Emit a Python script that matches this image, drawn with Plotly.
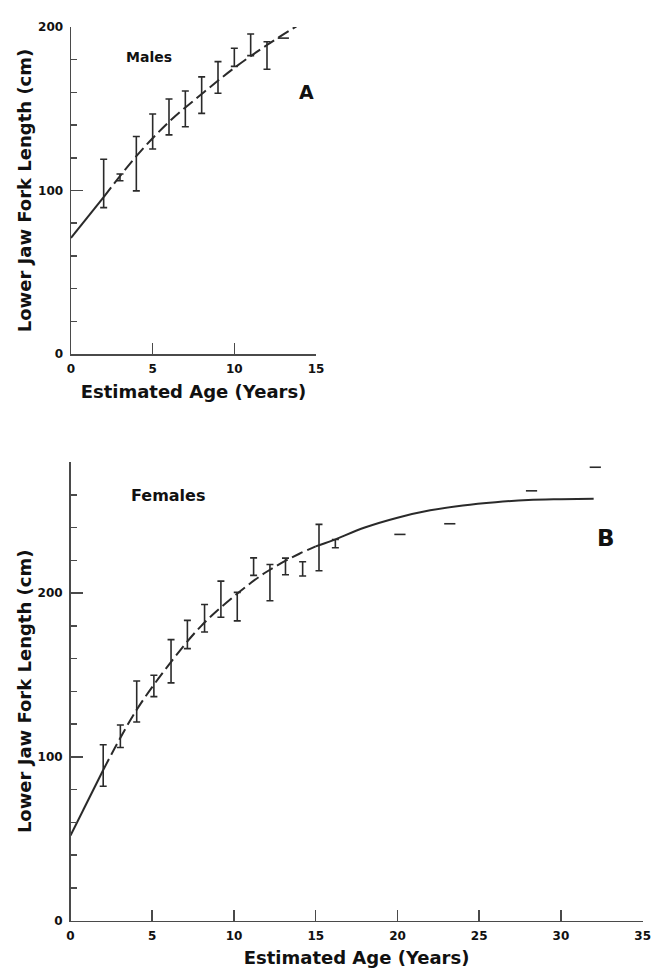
import plotly.graph_objects as go

# ---------------- Panel A: Males ----------------
male_age = [2, 3, 4, 5, 6, 7, 8, 9, 10, 11, 12]
male_low = [89.5, 106.0, 99.8, 125.4, 134.0, 139.0, 147.2, 159.5, 175.9, 182.5, 174.2]
male_high = [119.1, 110.1, 133.0, 146.8, 156.0, 160.9, 169.5, 178.8, 187.0, 195.7, 191.0]
male_single_age = [13, 14]
male_single_len = [193.2, 209.0]
male_curve_age = [0, 2, 4, 6, 8, 10, 12, 13.9]
male_curve_len = [71, 96, 121, 142, 159, 175, 189, 201]

# ---------------- Panel B: Females ----------------
female_age = [2.0, 3.05, 4.05, 5.1, 6.15, 7.15, 8.2, 9.2, 10.2, 11.2, 12.2, 13.15, 14.2, 15.2, 16.2]
female_low = [82.1, 105.7, 121.3, 136.8, 145.2, 166.1, 176.2, 185.2, 183.0, 210.8, 195.3, 211.2, 210.4, 213.6, 227.7]
female_high = [107.4, 119.5, 146.3, 149.8, 171.6, 183.3, 193.0, 207.3, 200.4, 221.5, 217.4, 221.3, 219.1, 241.9, 232.7]
female_single_age = [20.15, 23.2, 28.2, 32.1]
female_single_len = [235.8, 242.3, 262.4, 276.8]
female_curve_age = [0, 2, 4, 6, 8, 10, 12, 14, 15, 16, 18, 20, 22, 24, 26, 28, 30, 32]
female_curve_len = [52, 92, 128, 156, 180, 198, 213, 224, 228.5, 232, 240, 246, 250.5, 253.5, 255.5, 256.8, 257.3, 257.6]

INK = "#2a2a2a"
AXIS = "#4a4a4a"
FONT = "DejaVu Sans"

fig = go.Figure()


def add_panel(ages, lows, highs, s_age, s_len, c_age, c_len, solid_split, tail_split, xa, ya):
    centers = [(lo + hi) / 2 for lo, hi in zip(lows, highs)]
    fig.add_trace(go.Scatter(
        x=ages, y=centers, mode="markers",
        marker=dict(size=1, color="rgba(0,0,0,0)"),
        error_y=dict(type="data", symmetric=False,
                     array=[h - c for h, c in zip(highs, centers)],
                     arrayminus=[c - l for l, c in zip(lows, centers)],
                     color=INK, thickness=1.6, width=3.5),
        xaxis=xa, yaxis=ya, showlegend=False, hoverinfo="skip"))
    fig.add_trace(go.Scatter(
        x=s_age, y=s_len, mode="markers",
        marker=dict(symbol="line-ew", size=8, line=dict(width=1.6, color=INK)),
        cliponaxis=False, xaxis=xa, yaxis=ya, showlegend=False, hoverinfo="skip"))
    fig.add_trace(go.Scatter(
        x=c_age[:solid_split + 1], y=c_len[:solid_split + 1], mode="lines",
        line=dict(color=INK, width=2, shape="spline"),
        xaxis=xa, yaxis=ya, showlegend=False, hoverinfo="skip"))
    end = tail_split + 1 if tail_split is not None else len(c_age)
    fig.add_trace(go.Scatter(
        x=c_age[solid_split:end], y=c_len[solid_split:end], mode="lines",
        line=dict(color=INK, width=2, dash="12px,5px", shape="spline"),
        xaxis=xa, yaxis=ya, showlegend=False, hoverinfo="skip"))
    if tail_split is not None:
        fig.add_trace(go.Scatter(
            x=c_age[tail_split:], y=c_len[tail_split:], mode="lines",
            line=dict(color=INK, width=2, shape="spline"),
            xaxis=xa, yaxis=ya, showlegend=False, hoverinfo="skip"))


add_panel(male_age, male_low, male_high, male_single_age, male_single_len,
          male_curve_age, male_curve_len, 1, None, "x", "y")
add_panel(female_age, female_low, female_high, female_single_age, female_single_len,
          female_curve_age, female_curve_len, 1, female_curve_age.index(15), "x2", "y2")

W, H = 653, 973
tickfont = dict(family=FONT, size=12, color="#111", weight="bold")
titlefont = dict(family=FONT, size=18, color="#111", weight="bold")


def xaxis(dom, rng, anchor):
    return dict(domain=dom, range=rng, anchor=anchor, dtick=5, tick0=0,
                showline=True, linecolor=AXIS, linewidth=1.5, mirror=False,
                ticks="inside", ticklen=11, tickwidth=1.5, tickcolor=AXIS,
                showgrid=False, zeroline=False, tickfont=tickfont,
                ticklabelstandoff=3, automargin=False,
                title=dict(text="Estimated Age (Years)", font=titlefont, standoff=10),
                fixedrange=True)


def yaxis(dom, rng, anchor):
    return dict(domain=dom, range=rng, anchor=anchor, dtick=100, tick0=0,
                showline=True, linecolor=AXIS, linewidth=1.5,
                ticks="inside", ticklen=12, tickwidth=1.5, tickcolor=AXIS,
                minor=dict(dtick=20, ticks="inside", ticklen=6, tickwidth=1.5, tickcolor=AXIS),
                showgrid=False, zeroline=False, tickfont=tickfont,
                ticklabelstandoff=4, automargin=False,
                title=dict(text="Lower Jaw Fork Length (cm)", font=titlefont, standoff=1),
                fixedrange=True)


fig.update_layout(
    width=W, height=H, margin=dict(l=0, r=0, t=0, b=0),
    paper_bgcolor="white", plot_bgcolor="white",
    xaxis=xaxis([71 / W, 316 / W], [0, 15], "y"),
    yaxis=yaxis([1 - 354 / H, 1 - 27 / H], [0, 200], "x"),
    xaxis2=xaxis([70.5 / W, 642.7 / W], [0, 35], "y2"),
    yaxis2=yaxis([1 - 920.7 / H, 1 - 462 / H], [0, 280], "x2"),
    annotations=[
        dict(text="Males", x=4.76, y=181.7, xref="x", yref="y", showarrow=False,
             font=dict(family=FONT, size=14, color="#111", weight="bold")),
        dict(text="A", x=14.4, y=160.5, xref="x", yref="y", showarrow=False,
             font=dict(family=FONT, size=19, color="#111", weight="bold")),
        dict(text="Females", x=5.98, y=259.6, xref="x2", yref="y2", showarrow=False,
             font=dict(family=FONT, size=16, color="#111", weight="bold")),
        dict(text="B", x=32.75, y=233.7, xref="x2", yref="y2", showarrow=False,
             font=dict(family=FONT, size=23, color="#111", weight="bold")),
    ],
)

fig.write_html("out.html",
               config=dict(displayModeBar=False, staticPlot=True),
               post_script="document.body.style.margin='0';document.body.style.overflow='hidden';")
